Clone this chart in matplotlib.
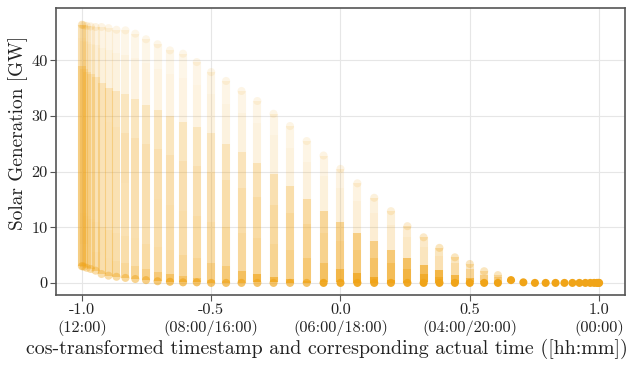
import numpy as np
import matplotlib
matplotlib.use("Agg")
import matplotlib.pyplot as plt
from matplotlib.colors import to_rgba

plt.rcParams['font.family'] = ['cmr10', 'DejaVu Serif']
plt.rcParams['mathtext.fontset'] = 'cm'
plt.rcParams['axes.unicode_minus'] = False

# time of day (hours) of each 15 min slot, noon -> midnight
time_of_day = [12.0, 11.75, 11.5, 11.25, 11.0, 10.75, 10.5, 10.25, 10.0, 9.75,
               9.5, 9.25, 9.0, 8.75, 8.5, 8.25, 8.0, 7.75, 7.5, 7.25,
               7.0, 6.75, 6.5, 6.25, 6.0, 5.75, 5.5, 5.25, 5.0, 4.75,
               4.5, 4.25, 4.0, 3.75, 3.5, 3.25, 3.0, 2.75, 2.5, 2.25,
               2.0, 1.75, 1.5, 1.25, 1.0, 0.75, 0.5, 0.25, 0.0]

# solar generation per slot [GW]: min, quantiles, max
gen_min = [3.0, 3.0, 2.9, 2.7, 2.5, 2.2, 1.6, 1.3, 1.1, 0.9, 0.7, 0.5, 0.3, 0.2, 0.1, 0.1] + [0.0] * 33
gen_q10 = [7, 7, 7, 6.5, 6, 5.5, 5, 4.5, 4, 3.5, 3, 2.5, 2, 1.6, 1.2, 0.9, 0.6, 0.4, 0.3, 0.2,
           0.1, 0.05] + [0.0] * 27
gen_q25 = [13, 13, 12.5, 12, 11.5, 11, 10, 9.5, 9, 8.5, 8, 7, 6.5, 6, 5, 4.5, 3.5, 3, 2.2, 1.6,
           1.1, 0.7, 0.4, 0.2, 0.1, 0.05] + [0.0] * 23
gen_q50 = [23, 23, 22.5, 22, 21.5, 21, 20, 19.5, 18.5, 18, 17, 16, 15, 14, 13, 12, 11, 10, 9, 8,
           7, 6, 4.5, 3.5, 2.5, 1.8, 1.1, 0.6, 0.3, 0.1] + [0.0] * 19
gen_q75 = [33, 33, 32.5, 32, 31.5, 31, 30, 29, 28, 27, 26, 25, 24, 23, 22, 21, 20, 18.5, 17, 15.5,
           14, 12.5, 10.5, 9, 7.5, 6, 4.5, 3.5, 2.5, 1.6, 1.0, 0.5, 0.2, 0.1] + [0.0] * 15
gen_q90 = [39, 39, 38.5, 38, 37.5, 37, 36, 35, 34.5, 34, 33, 32, 31, 30, 29, 28, 27, 25, 23.5, 21.5,
           19.5, 17.5, 15, 13, 11, 9, 7.5, 6, 4.5, 3.3, 2.3, 1.4, 0.8, 0.4, 0.2, 0.1] + [0.0] * 13
gen_q97 = [44, 44, 43.5, 43.3, 43, 42.7, 42.3, 41.8, 41.3, 41, 40.5, 39.5, 38.5, 37.5, 36.8, 35.5,
           34, 32.2, 30.5, 28.7, 26.5, 24.3, 21.7, 19.3, 17, 14.7, 12.5, 10.4, 8.2, 6.5,
           4.9, 3.5, 2.5, 1.5, 1.0, 0.5, 0.1] + [0.0] * 12
gen_max = [46.4, 46.4, 46.3, 46.2, 46.1, 46.0, 46.0, 45.8, 45.5, 45.4, 44.8, 43.8, 42.9, 41.8, 41.2,
           39.7, 37.9, 36.3, 34.5, 32.7, 30.4, 28.2, 25.5, 22.9, 20.5, 17.9, 15.3, 12.9, 10.2, 8.2,
           6.3, 4.6, 3.4, 2.1, 1.4, 0.7, 0.2] + [0.0] * 12
band_share = [0.10, 0.15, 0.25, 0.25, 0.15, 0.07, 0.03]

tick_pos = [-1.0, -0.5, 0.0, 0.5, 1.0]
tick_labels = ['-1.0\n(12:00)', '-0.5\n(08:00/16:00)', '0.0\n(06:00/18:00)',
               '0.5\n(04:00/20:00)', '1.0\n(00:00)']

color = '#f0a418'
lw = 5.8          # column width in points (= marker diameter)
dot_gw = 1.4      # marker diameter in data units
K = 15.0


def alpha_for(share, width):
    return 1 - np.exp(-K * share / max(width, dot_gw))


fig, ax = plt.subplots(figsize=(6.29, 3.68), dpi=100)
fig.subplots_adjust(left=0.089, right=0.9936, top=0.978, bottom=0.198)

x_cos = np.cos(2 * np.pi * np.array(time_of_day) / 24.0)
table = np.array([gen_min, gen_q10, gen_q25, gen_q50, gen_q75, gen_q90, gen_q97, gen_max]).T

seg_x, seg_lo, seg_hi, seg_col = [], [], [], []
dot_x, dot_y, dot_col = [], [], []
for xv, levels in zip(x_cos, table):
    mass, mass_at = 0.0, levels[0]
    first_alpha = None
    for i, share in enumerate(band_share):
        lo, hi = levels[i], levels[i + 1]
        if hi - lo < 0.3:
            mass += share
            mass_at = lo
            continue
        a = alpha_for(share, hi - lo)
        if first_alpha is None:
            first_alpha = a
        seg_x.append(xv); seg_lo.append(lo); seg_hi.append(hi)
        seg_col.append(to_rgba(color, a))
        if i == len(band_share) - 1:
            # rounded top end of the column
            dot_x.append(xv); dot_y.append(hi); dot_col.append(to_rgba(color, a))
    if mass > 0:
        dot_x.append(xv); dot_y.append(mass_at); dot_col.append(to_rgba(color, alpha_for(mass, 0)))
    elif first_alpha is not None:
        dot_x.append(xv); dot_y.append(levels[0]); dot_col.append(to_rgba(color, first_alpha))

lc = ax.vlines(seg_x, seg_lo, seg_hi, colors=seg_col, linewidth=lw, zorder=3)
lc.set_capstyle('butt')
ax.scatter(dot_x, dot_y, s=lw ** 2, c=dot_col, edgecolors='none', zorder=3)

ax.set_xlim(-1.1, 1.1)
ax.set_ylim(-2.2, 49.4)
ax.set_xticks(tick_pos)
ax.set_xticklabels(tick_labels, linespacing=1.25)
ax.set_yticks([0, 10, 20, 30, 40])
ax.tick_params(labelsize=11.7, length=4, color='#555555', labelcolor='#222222', pad=2)
ax.grid(True, color='#e6e6e6', linewidth=0.8, zorder=0)
ax.set_axisbelow(True)
for sp in ax.spines.values():
    sp.set_color('#555555')
    sp.set_linewidth(1.2)

ax.set_xlabel('cos-transformed timestamp and corresponding actual time ([hh:mm])', fontsize=14.4,
              color='#222222')
ax.xaxis.set_label_coords(0.476, -0.153)
ax.set_ylabel('Solar Generation [GW]', fontsize=13.9, color='#222222')
ax.yaxis.set_label_coords(-0.05, 0.564)

fig.savefig('out.png', dpi=100)
